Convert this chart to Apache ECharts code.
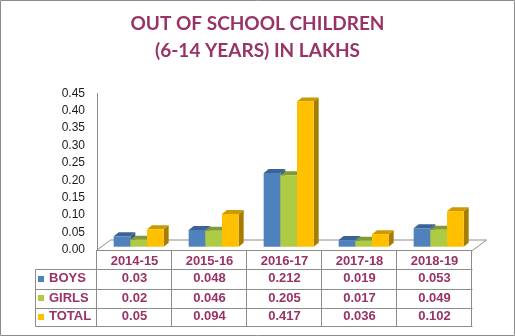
<!DOCTYPE html>
<html>
<head>
<meta charset="utf-8">
<script src="https://cdn.jsdelivr.net/npm/echarts@6/dist/echarts.min.js"></script>
<style>
  html, body { margin: 0; padding: 0; background: #fff; }
  #chart { width: 515px; height: 336px; }
</style>
</head>
<body>
<div id="chart"></div>
<script>
// Out-of-school children (6-14 years), in lakhs
const titleLines = ['OUT OF SCHOOL CHILDREN', '(6-14 YEARS) IN LAKHS'];
const years = ['2014-15', '2015-16', '2016-17', '2017-18', '2018-19'];
const boys  = [0.03, 0.048, 0.212, 0.019, 0.053];
const girls = [0.02, 0.046, 0.205, 0.017, 0.049];
const total = [0.05, 0.094, 0.417, 0.036, 0.102];
const seriesNames = ['BOYS', 'GIRLS', 'TOTAL'];
const yTicks = [0, 0.05, 0.10, 0.15, 0.20, 0.25, 0.30, 0.35, 0.40, 0.45];

const TEXT_COLOR = '#993366';
const LINE_COLOR = '#8c8c8c';
const palette = [
  { front: '#4f81bd', top: '#3b6395', side: '#355a88' },
  { front: '#aecb45', top: '#809a35', side: '#738a2f' },
  { front: '#ffc000', top: '#cc9a00', side: '#a67d00' }
];

// layout of the plot area and the data table underneath it
const G = { left: 97, right: 472, top: 93.3, bottom: 250 };
const colW = (G.right - G.left) / years.length;
const rowY = [250, 268.5, 288.5, 307.5, 326];   // table row boundaries
const tableLeft = 36;
const depth = { dx: 14, dy: -10.5 };             // floor depth
const barDepth = { dx: 5, dy: -4 };              // bar depth

const chart = echarts.init(document.getElementById('chart'), null, { renderer: 'canvas' });

function barRenderer(idx) {
  const c = palette[idx];
  return function (params, api) {
    const cat = api.value(0);
    const val = api.value(1);
    const base = api.coord([cat, 0]);
    const tip = api.coord([cat, val]);
    const bw = api.size([1, 0])[0] * 0.2222;
    const x0 = base[0] - 1.25 * bw + idx * bw;
    const x1 = x0 + bw;
    const y0 = base[1] - 3.3;
    const y1 = tip[1] - 3.3;
    const dx = barDepth.dx, dy = barDepth.dy;
    return {
      type: 'group',
      children: [
        { type: 'polygon', shape: { points: [[x1, y1], [x1 + dx, y1 + dy], [x1 + dx, y0 + dy], [x1, y0]] },
          style: { fill: c.side } },
        { type: 'polygon', shape: { points: [[x0, y1], [x0 + dx, y1 + dy], [x1 + dx, y1 + dy], [x1, y1]] },
          style: { fill: c.top } },
        { type: 'rect', shape: { x: x0, y: y1, width: bw, height: y0 - y1 },
          style: { fill: c.front } }
      ]
    };
  };
}

const seriesData = [boys, girls, total];

const graphics = [];
// two-line heading
titleLines.forEach(function (line, i) {
  graphics.push({ type: 'text', z: 5, x: 257.5, y: 24 + i * 26.5,
    style: { text: line, fill: TEXT_COLOR, font: 'bold 19px Lato, "Liberation Sans", sans-serif',
             align: 'center', verticalAlign: 'middle' } });
});
// floor of the plot
graphics.push({
  type: 'polygon', z: 1,
  shape: { points: [[G.left - 0.5, 250.5], [G.left - 0.5 + depth.dx, 250.5 + depth.dy],
                    [G.right + 0.5 + depth.dx, 250.5 + depth.dy], [G.right + 0.5, 250.5]] },
  style: { fill: '#ffffff', stroke: LINE_COLOR, lineWidth: 1 }
});
// horizontal table rules
rowY.forEach(function (y, i) {
  graphics.push({ type: 'line', z: 5,
    shape: { x1: i === 0 ? G.left - 0.5 : tableLeft - 0.5, y1: Math.round(y) + 0.5,
             x2: G.right + 0.5, y2: Math.round(y) + 0.5 },
    style: { stroke: LINE_COLOR, lineWidth: 1 } });
});
// vertical table rules
graphics.push({ type: 'line', z: 5,
  shape: { x1: tableLeft - 0.5, y1: Math.round(rowY[1]) + 0.5, x2: tableLeft - 0.5, y2: Math.round(rowY[4]) + 0.5 },
  style: { stroke: LINE_COLOR, lineWidth: 1 } });
for (let k = 0; k <= years.length; k++) {
  const x = Math.round(G.left + k * colW) - 0.5;
  graphics.push({ type: 'line', z: 5,
    shape: { x1: x, y1: 250.5, x2: x, y2: Math.round(rowY[4]) + 0.5 },
    style: { stroke: LINE_COLOR, lineWidth: 1 } });
}
// legend keys, row labels and values
seriesNames.forEach(function (name, r) {
  const cy = (rowY[r + 1] + rowY[r + 2]) / 2;
  graphics.push({ type: 'rect', z: 5,
    shape: { x: 38, y: Math.round(cy) - 3, width: 6, height: 6 },
    style: { fill: palette[r].front } });
  graphics.push({ type: 'text', z: 5, x: 49, y: cy,
    style: { text: name, fill: TEXT_COLOR, font: 'bold 13px "Liberation Sans", Arial, sans-serif',
             verticalAlign: 'middle', align: 'left' } });
  seriesData[r].forEach(function (v, c) {
    graphics.push({ type: 'text', z: 5, x: G.left + (c + 0.5) * colW, y: cy,
      style: { text: String(v), fill: TEXT_COLOR, font: 'bold 13px "Liberation Sans", Arial, sans-serif',
               verticalAlign: 'middle', align: 'center' } });
  });
});
// outer frame
graphics.push({ type: 'rect', z: 5,
  shape: { x: 0.5, y: 0.5, width: 514, height: 335 },
  style: { fill: null, stroke: LINE_COLOR, lineWidth: 1 } });

chart.setOption({
  animation: false,
  backgroundColor: '#ffffff',
  grid: { left: G.left, right: 515 - G.right, top: G.top, bottom: 336 - G.bottom, containLabel: false },
  xAxis: {
    type: 'category',
    data: years,
    axisLine: { show: false },
    axisTick: { show: false },
    axisLabel: {
      margin: 5,
      color: TEXT_COLOR,
      fontFamily: '"Liberation Sans", Arial, sans-serif',
      fontWeight: 'bold',
      fontSize: 13
    }
  },
  yAxis: {
    type: 'value',
    min: yTicks[0],
    max: yTicks[yTicks.length - 1],
    interval: 0.05,
    splitLine: { show: false },
    axisTick: { show: false },
    axisLine: { show: true, lineStyle: { color: LINE_COLOR, width: 1 } },
    axisLabel: {
      margin: 12,
      color: '#1a1a1a',
      fontFamily: '"Liberation Sans", Arial, sans-serif',
      fontSize: 12,
      formatter: function (v) { return v.toFixed(2); }
    }
  },
  graphic: graphics,
  series: seriesNames.map(function (name, i) {
    return {
      name: name,
      type: 'custom',
      renderItem: barRenderer(i),
      encode: { x: 0, y: 1 },
      data: seriesData[i].map(function (v, c) { return [c, v]; }),
      z: 3
    };
  })
});
</script>
</body>
</html>
